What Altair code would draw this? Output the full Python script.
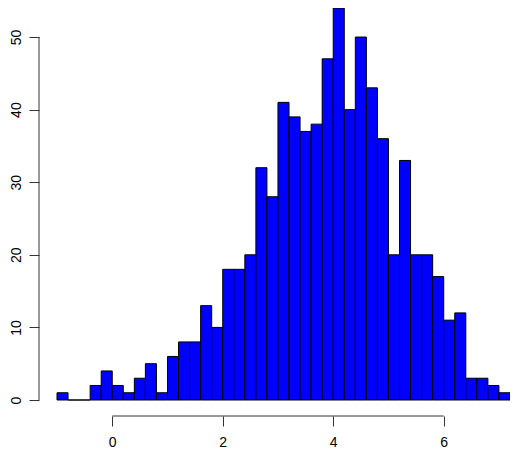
import altair as alt
import pandas as pd

# Histogram bins (left edges, width 0.2) and counts
bin_left = [-1.0, -0.8, -0.6, -0.4, -0.2, 0.0, 0.2, 0.4, 0.6, 0.8,
            1.0, 1.2, 1.4, 1.6, 1.8, 2.0, 2.2, 2.4, 2.6, 2.8,
            3.0, 3.2, 3.4, 3.6, 3.8, 4.0, 4.2, 4.4, 4.6, 4.8,
            5.0, 5.2, 5.4, 5.6, 5.8, 6.0, 6.2, 6.4, 6.6, 6.8, 7.0]
counts = [1, 0, 0, 2, 4, 2, 1, 3, 5, 1,
          6, 8, 8, 13, 10, 18, 18, 20, 32, 28,
          41, 39, 37, 38, 47, 54, 40, 50, 43, 36,
          20, 33, 20, 20, 17, 11, 12, 3, 3, 2, 1]
bin_width = 0.2

x_ticks = [0, 2, 4, 6]
y_ticks = [0, 10, 20, 30, 40, 50]

df = pd.DataFrame({"left": bin_left, "count": counts})
df["right"] = df["left"] + bin_width

FONT = "Liberation Sans"
W, H = 453, 392
X_OFF, Y_OFF = 16, 18

xscale = alt.Scale(domain=[-1.0, 7.2], nice=False, zero=False)
yscale = alt.Scale(domain=[0, 54], nice=False)

bars = alt.Chart(df).mark_rect(color="#0000FF", stroke="black", strokeWidth=1).encode(
    x=alt.X("left:Q", scale=xscale,
            axis=alt.Axis(values=x_ticks, title=None, grid=False, domain=False,
                          tickSize=10, tickColor="#333333", offset=X_OFF,
                          labelPadding=9, labelFont=FONT, labelFontSize=14,
                          labelColor="black", format="d")),
    x2="right:Q",
    y=alt.Y("count:Q", scale=yscale,
            axis=alt.Axis(values=y_ticks, title=None, grid=False, domain=False,
                          tickSize=10, tickColor="#333333", offset=Y_OFF,
                          labelAngle=270, labelAlign="center", labelBaseline="bottom",
                          labelPadding=6, labelFont=FONT,
                          labelFontSize=14, labelColor="black", format="d")),
    y2=alt.datum(0),
)

xaxis_line = alt.Chart(pd.DataFrame({"a": [x_ticks[0]], "b": [x_ticks[-1]]})).mark_rule(
    color="#333333", strokeWidth=1).encode(
    x=alt.X("a:Q", scale=xscale), x2="b:Q", y=alt.value(H + X_OFF))

yaxis_line = alt.Chart(pd.DataFrame({"a": [y_ticks[0]], "b": [y_ticks[-1]]})).mark_rule(
    color="#333333", strokeWidth=1).encode(
    y=alt.Y("a:Q", scale=yscale), y2="b:Q", x=alt.value(-Y_OFF))

chart = alt.layer(bars, xaxis_line, yaxis_line).properties(
    width=W, height=H,
    autosize=alt.AutoSizeParams(type="none"),
    padding={"left": 49, "top": 0, "right": 0, "bottom": 49},
).configure_view(strokeWidth=0)

chart.save("out.html", embed_options={"renderer": "svg", "actions": False})
